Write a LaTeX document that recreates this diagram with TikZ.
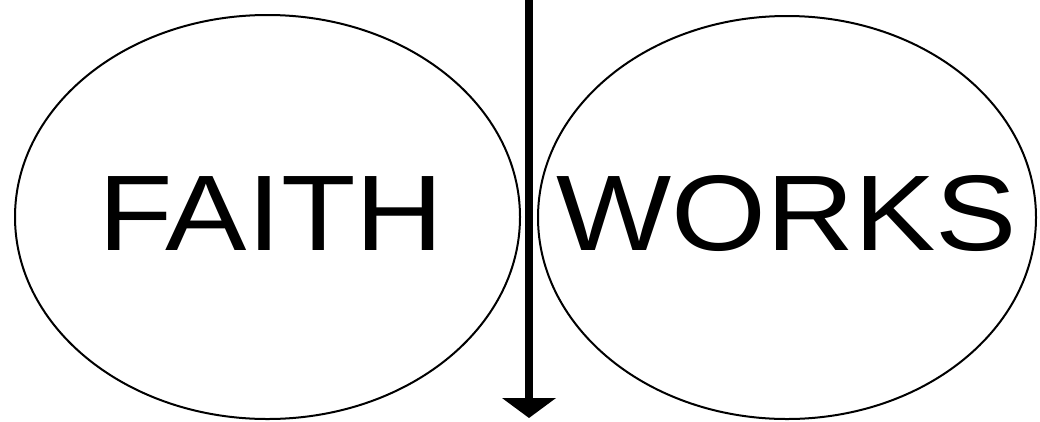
\documentclass[tikz,border=0pt]{standalone}
\usepackage{fontspec}
\setmainfont{Liberation Sans}
\newfontfamily\wordfont[FakeStretch=1.135]{Liberation Sans}
\usetikzlibrary{shapes.geometric,arrows.meta}

\begin{document}
\begin{tikzpicture}[x=1pt, y=-1pt,
  oval/.style={draw=black, line width=2pt, ellipse, inner sep=0pt},
  word/.style={font=\wordfont\fontsize{107.5}{110}\selectfont, inner sep=0pt},
  flow/.style={-{Triangle[width=53pt, length=20pt]}, line width=8pt, black}
]
\useasboundingbox (0,0) rectangle (1040,421);

% the two ovals
\node[oval, minimum width=505pt, minimum height=404pt] (faithoval) at (267.5,217) {};
\node[oval, minimum width=498pt, minimum height=403pt] (worksoval) at (787,217.5) {};

% labels
\node[word] (faith) at (271,213.5) {FAITH};
\node[word] (works) at (786.5,213.5) {WORKS};

% dividing arrow
\coordinate (top) at (529,-4);
\coordinate (bottom) at (529,418);
\draw[flow] (top) -- (bottom);
\end{tikzpicture}
\end{document}
